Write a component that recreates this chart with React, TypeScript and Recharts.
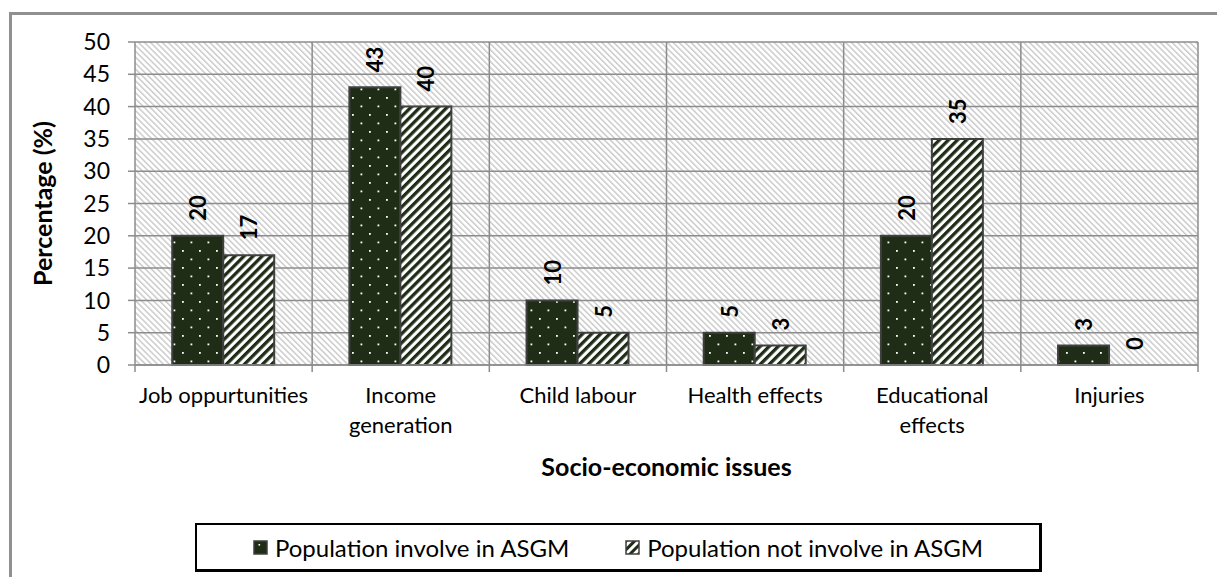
import React from 'react';
import { BarChart, Bar, XAxis, YAxis, CartesianGrid, LabelList, Label, Rectangle } from 'recharts';

// Survey results: share of respondents naming each socio-economic issue
const categories = [
  'Job oppurtunities',
  'Income\ngeneration',
  'Child labour',
  'Health effects',
  'Educational\neffects',
  'Injuries',
];
const involvedInASGM = [20, 43, 10, 5, 20, 3];
const notInvolvedInASGM = [17, 40, 5, 3, 35, 0];
const yTicks = [0, 5, 10, 15, 20, 25, 30, 35, 40, 45, 50];
const seriesNames = ['Population involve in ASGM', 'Population not involve in ASGM'];
const xTitle = 'Socio-economic issues';
const yTitle = 'Percentage (%)';

const data = categories.map((category, i) => ({
  category,
  involved: involvedInASGM[i],
  notInvolved: notInvolvedInASGM[i],
}));

const FONT = 'Lato, "Open Sans", sans-serif';
const GRID = '#8c8c8c';
const DARK = '#1f2d17';
const EDGE = '#404040';
const TICK_SIZE = 7;
const TICK_MARGIN = 8;

const PatternDefs = () => (
  <defs>
    <pattern id="plotHatch" width="4.2" height="4.2" patternUnits="userSpaceOnUse" patternTransform="rotate(-45)">
      <rect width="4.2" height="4.2" fill="#ffffff" />
      <rect width="1.5" height="4.2" fill="#cccccc" />
    </pattern>
    <pattern id="dotFill" width="17" height="17" patternUnits="userSpaceOnUse">
      <rect width="17" height="17" fill={DARK} />
      <rect x="3.5" y="3.5" width="1.8" height="1.8" fill="#ffffff" />
      <rect x="12" y="12" width="1.8" height="1.8" fill="#ffffff" />
    </pattern>
    <pattern id="stripeFill" width="6.4" height="6.4" patternUnits="userSpaceOnUse" patternTransform="rotate(45)">
      <rect width="6.4" height="6.4" fill="#ffffff" />
      <rect width="3.3" height="6.4" fill={DARK} />
    </pattern>
  </defs>
);

// zero-valued bars keep their label but draw no rectangle
const BarShape = (props: any) => (props.height > 1.5 ? <Rectangle {...props} /> : <g />);

const XTick = (props: any) => {
  const { x, y, payload, index, width } = props;
  const band = (width ?? 1063) / categories.length;
  const axisY = y - TICK_SIZE - TICK_MARGIN;
  const lines = String(payload.value).split('\n');
  return (
    <g>
      <line x1={x + band / 2} x2={x + band / 2} y1={axisY} y2={axisY + TICK_SIZE} stroke={GRID} strokeWidth={1.5} />
      {index === 0 && (
        <line x1={x - band / 2} x2={x - band / 2} y1={axisY} y2={axisY + TICK_SIZE} stroke={GRID} strokeWidth={1.5} />
      )}
      <text x={x} y={axisY + 38} textAnchor="middle" fontFamily={FONT} fontSize={22} fill="#000">
        {lines.map((line, i) => (
          <tspan key={i} x={x} dy={i === 0 ? 0 : 30}>
            {line}
          </tspan>
        ))}
      </text>
    </g>
  );
};

const ValueLabel = (props: any) => {
  const { x, y, width, height, value } = props;
  const cx = x + width / 2;
  const top = value === 0 ? y + height : y;
  const ty = top - 15;
  return (
    <text
      x={cx}
      y={ty}
      transform={`rotate(-90 ${cx} ${ty})`}
      textAnchor="start"
      dominantBaseline="central"
      fontFamily={FONT}
      fontWeight="bold"
      fontSize={22}
      fill="#000"
    >
      {value}
    </text>
  );
};

const LegendSwatch = ({ kind }: { kind: 'dots' | 'stripes' }) => (
  <svg width={15} height={15} style={{ display: 'block' }}>
    <defs>
      <pattern id={`lg-${kind}`} width="6" height="6" patternUnits="userSpaceOnUse" patternTransform={kind === 'stripes' ? 'rotate(45)' : undefined}>
        <rect width="6" height="6" fill={kind === 'dots' ? DARK : '#ffffff'} />
        {kind === 'stripes' && <rect width="3" height="6" fill={DARK} />}
      </pattern>
    </defs>
    <rect x={1} y={1} width={13} height={13} fill={kind === 'dots' ? DARK : `url(#lg-${kind})`} stroke={EDGE} strokeWidth={1.5} />
    {kind === 'dots' && <rect x={5.5} y={4} width={1.6} height={1.6} fill="#fff" />}
  </svg>
);

export default function App() {
  return (
    <div
      style={{
        position: 'absolute',
        left: 0,
        top: 0,
        width: 1217,
        height: 577,
        overflow: 'hidden',
        background: '#fff',
        fontFamily: FONT,
      }}
    >
      <div
        style={{
          position: 'absolute',
          left: 9,
          top: 12,
          width: 1400,
          height: 800,
          borderLeft: '3px solid #909090',
          borderTop: '3px solid #909090',
          boxSizing: 'border-box',
        }}
      />
      <div style={{ position: 'absolute', left: 0, top: 0 }}>
        <BarChart
          width={1217}
          height={577}
          data={data}
          margin={{ top: 42, right: 19, left: 0, bottom: 142 }}
          barCategoryGap="21%"
          barGap={0}
        >
          <PatternDefs />
          <CartesianGrid
            fill="url(#plotHatch)"
            fillOpacity={1}
            stroke={GRID}
            strokeWidth={1.5}
            verticalCoordinatesGenerator={({ offset }: any) =>
              categories.map((_, i) => offset.left + ((i + 1) * offset.width) / categories.length)
            }
          />
          <XAxis
            dataKey="category"
            interval={0}
            height={70}
            tickLine={false}
            tickSize={TICK_SIZE}
            tickMargin={TICK_MARGIN}
            axisLine={{ stroke: GRID, strokeWidth: 1.5 }}
            tick={<XTick />}
          >
            <Label
              content={({ viewBox }: any) => (
                <text
                  x={viewBox.x + viewBox.width / 2}
                  y={viewBox.y + 111}
                  textAnchor="middle"
                  fontFamily={FONT}
                  fontWeight="bold"
                  fontSize={25}
                  fill="#000"
                >
                  {xTitle}
                </text>
              )}
            />
          </XAxis>
          <YAxis
            width={135}
            domain={[0, 50]}
            ticks={yTicks}
            interval={0}
            tickSize={TICK_SIZE}
            tickMargin={18}
            tickLine={{ stroke: GRID, strokeWidth: 1.5 }}
            axisLine={{ stroke: GRID, strokeWidth: 1.5 }}
            tick={{ fontFamily: FONT, fontSize: 23, fill: '#000' }}
          >
            <Label
              content={({ viewBox }: any) => {
                const cx = 42;
                const cy = viewBox.y + viewBox.height / 2;
                return (
                  <text
                    x={cx}
                    y={cy}
                    transform={`rotate(-90 ${cx} ${cy})`}
                    textAnchor="middle"
                    dominantBaseline="central"
                    fontFamily={FONT}
                    fontWeight="bold"
                    fontSize={25}
                    fill="#000"
                  >
                    {yTitle}
                  </text>
                );
              }}
            />
          </YAxis>
          <Bar dataKey="involved" name={seriesNames[0]} fill="url(#dotFill)" stroke={EDGE} strokeWidth={2} isAnimationActive={false}>
            <LabelList dataKey="involved" content={<ValueLabel />} />
          </Bar>
          <Bar
            dataKey="notInvolved"
            name={seriesNames[1]}
            fill="url(#stripeFill)"
            stroke={EDGE}
            strokeWidth={2}
            minPointSize={1}
            shape={<BarShape />}
            isAnimationActive={false}
          >
            <LabelList dataKey="notInvolved" content={<ValueLabel />} />
          </Bar>
        </BarChart>
      </div>
      <div
        style={{
          position: 'absolute',
          left: 195,
          top: 523,
          width: 847,
          height: 49,
          boxSizing: 'border-box',
          border: '2px solid #000',
          borderRightWidth: 3,
          borderBottomWidth: 3,
          display: 'flex',
          alignItems: 'center',
          justifyContent: 'center',
          gap: 56,
          fontSize: 24,
          color: '#000',
        }}
      >
        {seriesNames.map((name, i) => (
          <div key={name} style={{ display: 'flex', alignItems: 'center', gap: 7 }}>
            <LegendSwatch kind={i === 0 ? 'dots' : 'stripes'} />
            <span>{name}</span>
          </div>
        ))}
      </div>
    </div>
  );
}
